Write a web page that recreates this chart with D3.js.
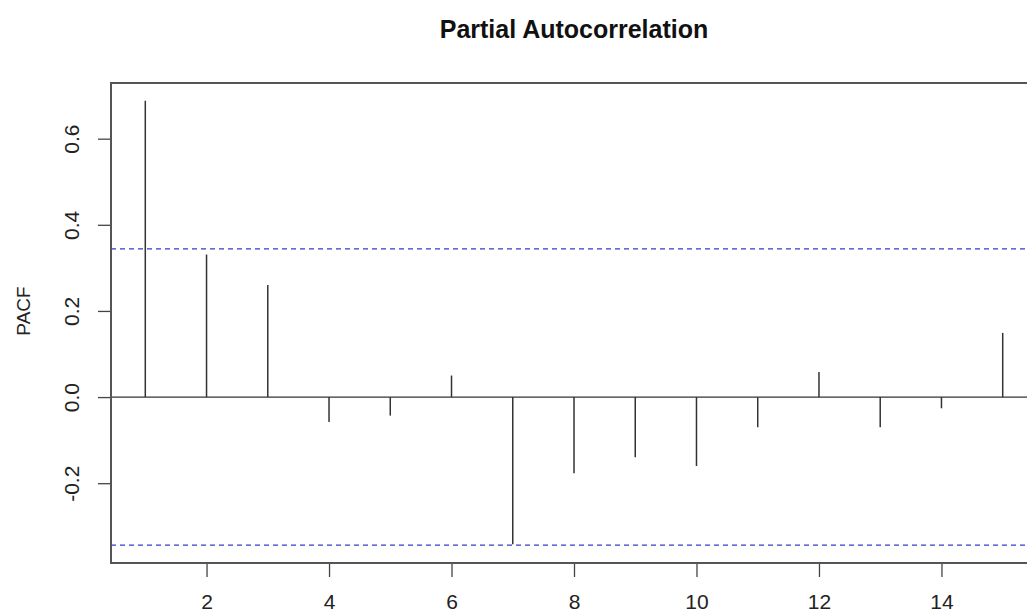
<!DOCTYPE html>
<html>
<head>
<meta charset="utf-8">
<script src="https://cdn.jsdelivr.net/npm/d3@7"></script>
<style>
  body { margin: 0; background: #fff; }
  svg { display: block; font-family: "Liberation Sans", Arial, sans-serif; }
  .tick text { fill: #222; }
</style>
</head>
<body>
<svg id="chart" width="1027" height="613"></svg>
<script>
// lags and partial autocorrelations
const lags = [1, 2, 3, 4, 5, 6, 7, 8, 9, 10, 11, 12, 13, 14, 15];
const pacf = [0.688, 0.331, 0.260, -0.058, -0.043, 0.050, -0.342, -0.177, -0.140, -0.160, -0.070, 0.058, -0.070, -0.026, 0.149];
const ciLimit = 0.344;
const xTicks = [2, 4, 6, 8, 10, 12, 14];
const yTicks = [-0.2, 0.0, 0.2, 0.4, 0.6];
const yTickLabels = ['-0.2', '0.0', '0.2', '0.4', '0.6'];

const svg = d3.select('#chart');

let plotLeft = 111, plotRight = 1037, plotTop = 83, plotBottom = 563;

// R style 4% axis extension
function extend(lo, hi) {
  let pad = (hi - lo) * 0.04;
  return [lo - pad, hi + pad];
}

const xScale = d3.scaleLinear()
  .domain(extend(d3.min(lags), d3.max(lags)))
  .range([plotLeft, plotRight]);

const yLo = Math.min(-ciLimit, d3.min(pacf));
const yHi = Math.max(ciLimit, d3.max(pacf));
const yScale = d3.scaleLinear()
  .domain(extend(yLo, yHi))
  .range([plotBottom, plotTop]);

// title
svg.append('text')
  .text('Partial Autocorrelation')
  .attr('x', (plotLeft + plotRight) / 2)
  .attr('y', 38)
  .attr('text-anchor', 'middle')
  .style('font-weight', 'bold')
  .style('font-size', '25px')
  .style('fill', '#111');

// y axis
const yAxis = svg.append('g')
  .attr('transform', 'translate(' + plotLeft + ',0)')
  .call(d3.axisLeft(yScale)
    .tickValues(yTicks)
    .tickSize(13)
    .tickFormat((d, i) => yTickLabels[i]));
yAxis.select('.domain').remove();
yAxis.selectAll('line').attr('stroke', '#444').attr('stroke-width', 1.3);
yAxis.selectAll('text')
  .attr('transform', 'rotate(-90)')
  .attr('x', 0)
  .attr('y', -39)
  .attr('dy', '0.35em')
  .attr('text-anchor', 'middle')
  .style('font-size', '21px');

// x axis
const xAxis = svg.append('g')
  .attr('transform', 'translate(0,' + plotBottom + ')')
  .call(d3.axisBottom(xScale)
    .tickValues(xTicks)
    .tickSize(14)
    .tickFormat(d3.format('d')));
xAxis.select('.domain').remove();
xAxis.selectAll('line').attr('stroke', '#444').attr('stroke-width', 1.3);
xAxis.selectAll('text')
  .attr('y', 31)
  .attr('dy', '0.71em')
  .style('font-size', '21px');

// y title
svg.append('text')
  .text('PACF')
  .attr('transform', 'rotate(-90)')
  .attr('x', -311)
  .attr('y', 30)
  .attr('text-anchor', 'middle')
  .style('font-size', '19px')
  .style('fill', '#222');

// zero line
svg.append('line')
  .attr('x1', plotLeft).attr('x2', plotRight)
  .attr('y1', yScale(0)).attr('y2', yScale(0))
  .attr('stroke', '#333')
  .attr('stroke-width', 1.3);

// confidence limits
svg.selectAll('.ci')
  .data([ciLimit, -ciLimit])
  .enter()
  .append('line')
  .attr('class', 'ci')
  .attr('x1', plotLeft).attr('x2', plotRight)
  .attr('y1', d => yScale(d)).attr('y2', d => yScale(d))
  .attr('stroke', '#3a3ac8')
  .attr('stroke-width', 1.2)
  .attr('stroke-dasharray', '5,4');

// spikes
svg.selectAll('.spike')
  .data(lags)
  .enter()
  .append('line')
  .attr('class', 'spike')
  .attr('x1', d => xScale(d)).attr('x2', d => xScale(d))
  .attr('y1', yScale(0))
  .attr('y2', (d, i) => yScale(pacf[i]))
  .attr('stroke', '#333')
  .attr('stroke-width', 1.5);

// box
svg.append('rect')
  .attr('x', plotLeft).attr('y', plotTop)
  .attr('width', plotRight - plotLeft).attr('height', plotBottom - plotTop)
  .attr('fill', 'none')
  .attr('stroke', '#555')
  .attr('stroke-width', 2);
</script>
</body>
</html>
